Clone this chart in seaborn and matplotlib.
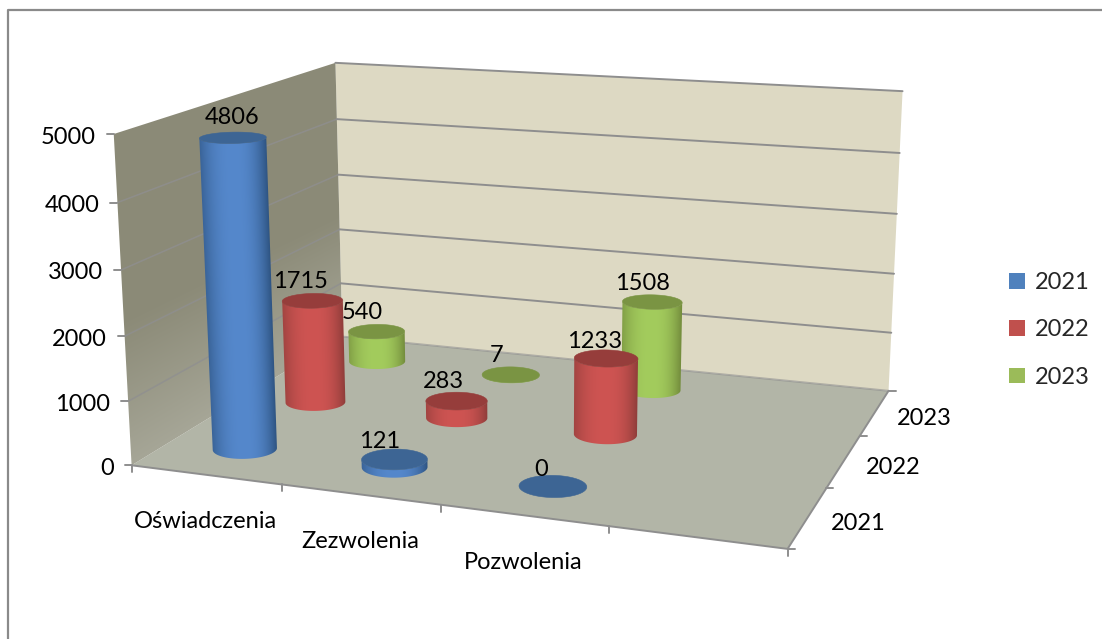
import numpy as np
import matplotlib
matplotlib.use("Agg")
import matplotlib.pyplot as plt
from matplotlib.patches import Polygon, Patch
from matplotlib.colors import to_rgb
import seaborn as sns

# ---------- data ----------
categories = ["Oświadczenia", "Zezwolenia", "Pozwolenia", ""]
series_names = ["2021", "2022", "2023"]
values_2021 = [4806, 121, 0, np.nan]
values_2022 = [1715, 283, 1233, np.nan]
values_2023 = [540, 7, 1508, np.nan]
value_ticks = [0, 1000, 2000, 3000, 4000, 5000]
value_max = 5000

# ---------- style ----------
sns.set_theme(style="white")
plt.rcParams["font.family"] = ["Lato", "DejaVu Sans"]
palette = sns.color_palette(["#4F81BD", "#C0504D", "#9BBB59"])
cap_colors = ["#3D6594", "#963D3B", "#7A9443"]
edge_colors = ["#2E5482", "#8F3D3A", "#738C3C"]
mid_colors = ["#5588CC", "#CE5452", "#A3CC5D"]
FS = 17
all_values = [values_2021, values_2022, values_2023]

# label offsets from the cap centre, in pixels (layout only)
label_dx = [[-1, -15, -12], [-12, -13, -12], [-14, -14, -10]]
label_dy = [[-20, -18, -17], [-19, -19, -17], [-19, -19, -18]]

# ---------- 3D frame: camera fitted to frame corners (u, v, h) -> pixel ----------
frame_world = np.array([[0, 0, 0], [1, 0, 0], [0, 1, 0], [1, 1, 0],
                        [0, 0, 1], [0, 1, 1], [1, 1, 1],
                        [.25, 0, 0], [.5, 0, 0], [.75, 0, 0],
                        [1, 1/3, 0], [1, 2/3, 0]], float)
frame_pixel = np.array([[133, 465], [787, 549], [343, 337], [887, 391],
                        [115, 133], [334, 62], [903, 93],
                        [281, 485], [439, 507], [607, 527],
                        [828, 485], [862, 435]], float)
rows = []
for (X, Y, Z), (x, y) in zip(frame_world, frame_pixel):
    rows.append([X, Y, Z, 1, 0, 0, 0, 0, -x*X, -x*Y, -x*Z, -x])
    rows.append([0, 0, 0, 0, X, Y, Z, 1, -y*X, -y*Y, -y*Z, -y])
cam = np.linalg.svd(np.array(rows))[2][-1].reshape(3, 4)


def project(u, v, h):
    u, v, h = np.broadcast_arrays(np.asarray(u, float), np.asarray(v, float), np.asarray(h, float))
    w = np.stack([u, v, h, np.ones_like(u)], axis=-1) @ cam.T
    return w[..., :2] / w[..., 2:]


def rgb(c):
    return np.array(to_rgb(c))


fig = plt.figure(figsize=(11.02, 6.39), dpi=100)
ax = fig.add_axes([0, 0, 1, 1])
ax.set_xlim(0, 1102)
ax.set_ylim(639, 0)
ax.autoscale(False)
ax.axis("off")


def gradient_patch(poly, shade, zorder):
    """Fill a polygon with a per-pixel colour image clipped to the polygon."""
    x0, x1 = np.floor(poly[:, 0].min()) - 1, np.ceil(poly[:, 0].max()) + 1
    y0, y1 = np.floor(poly[:, 1].min()) - 1, np.ceil(poly[:, 1].max()) + 1
    xs = np.arange(x0, x1, 0.5) + 0.25
    ys = np.arange(y0, y1, 0.5) + 0.25
    X, Y = np.meshgrid(xs, ys)
    im = ax.imshow(shade(X, Y), extent=(x0, x1, y1, y0), origin="upper", aspect="auto",
                   interpolation="bilinear", zorder=zorder)
    clip = Polygon(poly, transform=ax.transData, fc="none", ec="none")
    ax.add_patch(clip)
    im.set_clip_path(clip)


# chart frame
ax.plot([8, 8, 1102], [639, 10, 10], color="#8A8A8A", lw=1.6, zorder=1)

GRID = "#8E8E8E"
# floor
ax.add_patch(Polygon(project([0, 1, 1, 0], [0, 0, 1, 1], 0), fc="#B2B5A7", ec="none", zorder=2))
# back wall
ax.add_patch(Polygon(project([0, 1, 1, 0], 1, [0, 0, 1, 1]), fc="#DDD9C3", ec="none", zorder=2))
# left wall, lighter towards the floor
lw_b0, lw_b1 = project(0, [0, 1], 0)
lw_t0, lw_t1 = project(0, [0, 1], 1)


def wall_shade(X, Y):
    f = (X - lw_b0[0]) / (lw_b1[0] - lw_b0[0])
    yb = lw_b0[1] + f * (lw_b1[1] - lw_b0[1])
    yt = lw_t0[1] + f * (lw_t1[1] - lw_t0[1])
    t = np.clip((yb - Y) / (yb - yt) * 2.2, 0, 1)[..., None]
    return rgb("#A6A697") + (rgb("#8B8A77") - rgb("#A6A697")) * t


gradient_patch(project(0, [0, 1, 1, 0], [0, 0, 1, 1]), wall_shade, 2)

# gridlines
for t in value_ticks:
    h = t / value_max
    if 0 < t < value_max:
        ax.plot(*project([0, 0], [0, 1], h).T, color="#8F8F90", lw=1.1, zorder=3, alpha=0.8)
    ax.plot(*project([0, 1], [1, 1], h).T, color=GRID, lw=1.4, zorder=3, alpha=1 if t else 0.6)

# floor edges and ticks
ax.plot(*project([0, 1, 1], [0, 0, 1], 0).T, color=GRID, lw=1.4, zorder=3)
for t in value_ticks:
    p = project(0, 0, t / value_max)
    ax.plot([p[0] - 7, p[0]], [p[1], p[1]], color=GRID, lw=1.4, zorder=3)
    ax.text(p[0] - 18, p[1] + 3, str(t), ha="right", va="center", fontsize=FS, color="black", zorder=300)
for i in range(len(categories) + 1):
    p = project(i / len(categories), 0, 0)
    ax.plot([p[0], p[0]], [p[1], p[1] + 7], color=GRID, lw=1.4, zorder=3)
for i, name in enumerate(categories):
    p = project((i + .5) / len(categories), 0, 0)
    ax.text(p[0], p[1] + 47, name, ha="center", va="center", fontsize=FS, color="black", zorder=300)
for j in range(len(series_names) + 1):
    p = project(1, j / len(series_names), 0)
    ax.plot([p[0], p[0] + 7], [p[1], p[1]], color=GRID, lw=1.4, zorder=3)
for j, name in enumerate(series_names):
    p = project(1, (j + .5) / len(series_names), 0)
    ax.text(p[0] + 50, p[1] + 6, name, ha="center", va="center", fontsize=FS, color="black", zorder=300)

# cylinders, back to front
RU, RV = 0.0495, 0.062
theta = np.linspace(0, 2 * np.pi, 361)[:-1]
z = 10
for j in reversed(range(len(series_names))):
    for i, val in enumerate(all_values[j]):
        if np.isnan(val):
            continue
        cu = (i + .5) / len(categories)
        cv = (j + .5) / len(series_names)
        uu = cu + RU * np.cos(theta)
        vv = cv + RV * np.sin(theta)
        h = val / value_max
        base = project(uu, vv, 0)
        top = project(uu, vv, h)
        if val > 0:
            a, b = int(np.argmin(base[:, 0])), int(np.argmax(base[:, 0]))
            n = len(theta)
            arc1 = [(a + k) % n for k in range((b - a) % n + 1)]
            arc2 = [(b + k) % n for k in range((a - b) % n + 1)]
            arc = arc1 if base[arc1, 1].mean() > base[arc2, 1].mean() else arc2
            # silhouette: base front arc, then straight up along the right edge, top arc back
            outline = np.vstack([base[arc], top[arc][::-1]])
            bl, br = base[arc[0]], base[arc[-1]]
            tl, tr = top[arc[0]], top[arc[-1]]

            def shade(X, Y, bl=bl, br=br, tl=tl, tr=tr, j=j):
                f = np.clip((Y - tl[1]) / max(bl[1] - tl[1], 1), 0, 1)
                xl = tl[0] + f * (bl[0] - tl[0])
                xr = tr[0] + f * (br[0] - tr[0])
                t = (X - (xl + xr) / 2) / ((xr - xl) / 2)
                amount = np.clip(np.abs(t), 0, 1) ** 2.4
                amount = np.where(t < 0, amount * 0.7, amount)[..., None]
                return np.clip(rgb(mid_colors[j]) + (rgb(edge_colors[j]) - rgb(mid_colors[j])) * amount, 0, 1)

            gradient_patch(outline, shade, z)
            z += 1
        ax.add_patch(Polygon(top, fc=cap_colors[j], ec=cap_colors[j], lw=0.4, zorder=z))
        z += 1
        c = project(cu, cv, h)
        ax.text(c[0] + label_dx[j][i], c[1] + label_dy[j][i], f"{int(val)}", ha="center", va="center",
                fontsize=FS, color="black", zorder=200)

# legend
handles = [Patch(fc=c, ec="none", label=n) for c, n in zip(palette, series_names)]
ax.legend(handles=handles, loc="center left", bbox_to_anchor=(1000 / 1102, 1 - 330 / 639),
          frameon=False, fontsize=FS, handlelength=0.64, handleheight=0.64,
          handletextpad=0.42, labelspacing=1.12, borderpad=0, borderaxespad=0.4)

fig.savefig("out.png", dpi=100, facecolor="white")
